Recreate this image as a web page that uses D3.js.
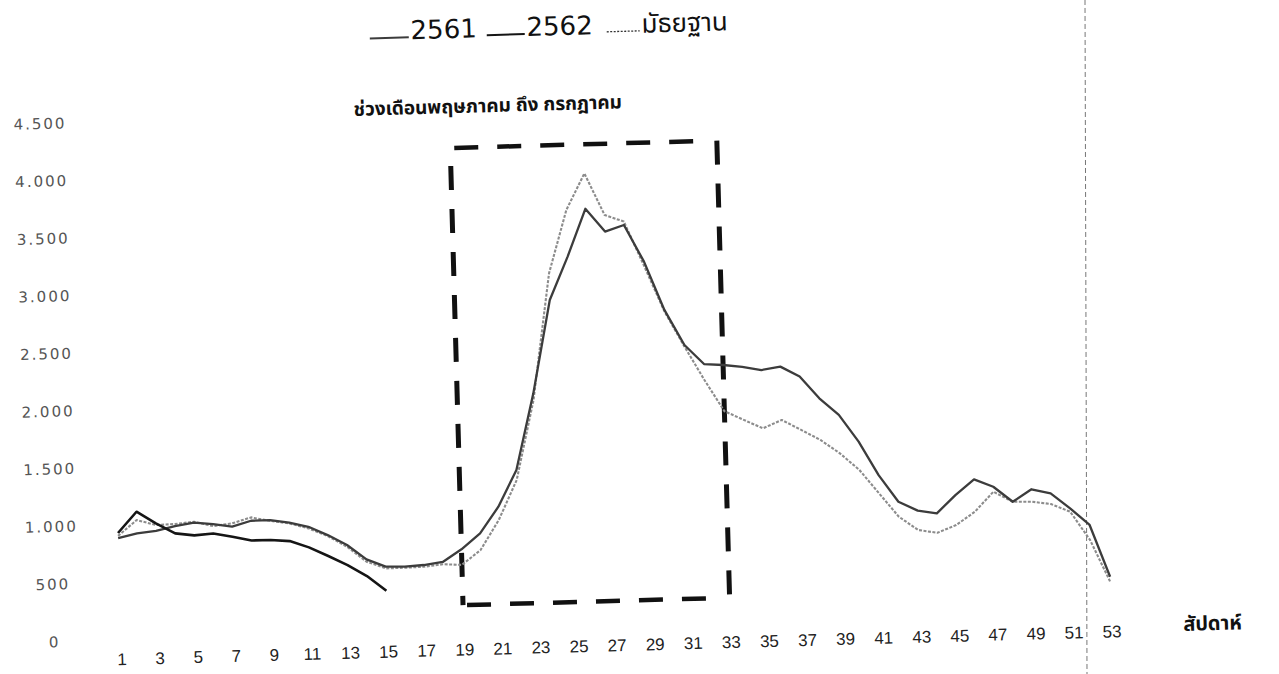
<!DOCTYPE html>
<html>
<head>
<meta charset="utf-8">
<script src="https://cdn.jsdelivr.net/npm/d3@7"></script>
<style>
  html, body { margin: 0; padding: 0; background: #fff; }
  svg { display: block; }
  .thai { font-family: "Noto Sans Thai", "Noto Sans Thai UI", "Loma", "Garuda", "Tahoma", "DejaVu Sans", sans-serif; }
</style>
</head>
<body>
<svg id="chart" width="1279" height="674"></svg>
<script>
// ---------------- DATA ----------------
const weeks = [1,2,3,4,5,6,7,8,9,10,11,12,13,14,15,16,17,18,19,20,21,22,23,24,25,26,27,28,29,30,
               31,32,33,34,35,36,37,38,39,40,41,42,43,44,45,46,47,48,49,50,51,52,53];

const series2561 = [885,922,940,976,1001,984,957,1004,1005,978,938,861,770,641,573,568,578,600,705,839,
                    1066,1380,2041,2847,3219,3630,3427,3480,3157,2733,2424,2254,2241,2221,2188,2213,2122,1929,1780,1543,
                    1248,1012,930,902,1056,1188,1119,984,1088,1048,913,764,310];

const series2562 = [930,1110,1004,913,891,903,870,833,832,818,759,679,596,496,364];

const seriesMedian = [905,1038,990,994,1009,967,986,1033,999,972,924,853,755,621,558,559,563,580,570,694,
                      950,1293,1983,3079,3624,3937,3572,3510,3120,2720,2410,2115,1840,1760,1682,1750,1659,1567,1446,1297,
                      1089,882,762,733,796,907,1076,984,980,955,884,634,266];

const seriesNames = ["2561", "2562", "มัธยฐาน"];

const xTickValues = [1,3,5,7,9,11,13,15,17,19,21,23,25,27,29,31,33,35,37,39,41,43,45,47,49,51,53];
const xTickLabels = ["1","3","5","7","9","11","13","15","17","19","21","23","25","27","29","31","33",
                     "35","37","39","41","43","45","47","49","51","53"];
const yTickValues = [0,500,1000,1500,2000,2500,3000,3500,4000,4500];
const yTickLabels = ["0","500","1.000","1.500","2.000","2.500","3.000","3.500","4.000","4.500"];

// highlight box: weeks 19–33 (May – July)
const boxWeeks = [19, 33];
const boxValues = [220, 4190];

const titleText = "ช่วงเดือนพฤษภาคม ถึง กรกฎาคม";
const xAxisTitle = "สัปดาห์";

// ---------------- DRAW ----------------
const svg = d3.select("#chart");

// faint scan fold line (page artifact)
svg.append("line")
  .attr("x1", 1085).attr("x2", 1087).attr("y1", 0).attr("y2", 674)
  .attr("stroke", "#777").attr("stroke-width", 1).attr("stroke-dasharray", "5,3");

// the scanned page is slightly rotated
const g = svg.append("g").attr("transform", "rotate(-1.6, 640, 400)");

const x = d3.scalePoint().domain(weeks).range([114.5, 1105]);
const y = d3.scaleLinear().domain([0, 4500]).range([625.5, 107.1]);

// Y axis labels
const yAxis = d3.axisLeft(y).tickValues(yTickValues).tickSize(0)
  .tickFormat((d, i) => yTickLabels[i]);
const yG = g.append("g").attr("transform", "translate(48,0)").call(yAxis);
yG.select(".domain").remove();
yG.selectAll("text")
  .attr("x", 0).attr("text-anchor", "middle")
  .attr("font-family", "'DejaVu Sans', sans-serif")
  .attr("font-size", 15).attr("letter-spacing", 2)
  .attr("fill", "#555");

// X axis labels
const xAxis = d3.axisBottom(x).tickValues(xTickValues).tickSize(0)
  .tickFormat((d, i) => xTickLabels[i]);
const xG = g.append("g").attr("transform", `translate(0,${y(0)})`).call(xAxis);
xG.select(".domain").remove();
xG.selectAll("text")
  .attr("y", 25).attr("dy", null)
  .attr("font-family", "'Liberation Sans', sans-serif")
  .attr("font-size", 17)
  .attr("fill", "#222");

// axis title
g.append("text").attr("class", "thai")
  .attr("x", 1206).attr("y", 646)
  .attr("text-anchor", "middle")
  .attr("font-size", 20).attr("font-weight", "bold")
  .attr("fill", "#111")
  .text(xAxisTitle);

// chart title
g.append("text").attr("class", "thai")
  .attr("x", 496).attr("y", 108)
  .attr("text-anchor", "middle")
  .attr("font-size", 19).attr("font-weight", "bold")
  .attr("fill", "#111")
  .text(titleText);

// highlight dashed box
const bx0 = x(boxWeeks[0]), bx1 = x(boxWeeks[1]);
const by0 = y(boxValues[0]), by1 = y(boxValues[1]);
const boxEdges = [
  {x1: bx0 + 4, y1: by1, x2: bx1 - 6, y2: by1, w: 4.5},
  {x1: bx0 + 4, y1: by0, x2: bx1 - 6, y2: by0, w: 4.5},
  {x1: bx0, y1: by1 + 18, x2: bx0, y2: by0, w: 5},
  {x1: bx1, y1: by1, x2: bx1, y2: by0, w: 5}
];
g.append("g").selectAll("line").data(boxEdges).join("line")
  .attr("x1", d => d.x1).attr("y1", d => d.y1)
  .attr("x2", d => d.x2).attr("y2", d => d.y2)
  .attr("stroke", "#111").attr("stroke-width", d => d.w)
  .attr("stroke-dasharray", "24,19");

// lines
const line = d3.line().x(d => x(d.w)).y(d => y(d.v));
const mk = arr => arr.map((v, i) => ({w: weeks[i], v}));

const styles = [
  {name: seriesNames[0], data: mk(series2561), color: "#3c3c3c", width: 2.3, dash: null},
  {name: seriesNames[1], data: mk(series2562), color: "#151515", width: 2.6, dash: null},
  {name: seriesNames[2], data: mk(seriesMedian), color: "#8c8c8c", width: 2.1, dash: "3,1.5"}
];

g.append("g").selectAll("path").data([styles[2], styles[0], styles[1]]).join("path")
  .attr("d", d => line(d.data))
  .attr("fill", "none")
  .attr("stroke", d => d.color)
  .attr("stroke-width", d => d.width)
  .attr("stroke-dasharray", d => d.dash)
  .attr("stroke-linejoin", "round");

// legend
const legendPos = [
  {lx: 380, tx: 421},
  {lx: 497, tx: 537},
  {lx: 617, tx: 652}
];
const leg = g.append("g");
styles.forEach((s, i) => {
  const p = legendPos[i];
  leg.append("line")
    .attr("x1", p.lx).attr("x2", p.tx - 2)
    .attr("y1", 31).attr("y2", 31)
    .attr("stroke", i === 2 ? "#333" : s.color)
    .attr("stroke-width", i === 2 ? 1.3 : 2)
    .attr("stroke-dasharray", i === 2 ? "2,1.5" : null);
  leg.append("text")
    .attr("class", i === 2 ? "thai" : null)
    .attr("x", p.tx).attr("y", 33)
    .attr("font-family", i === 2 ? null : "'DejaVu Sans', sans-serif")
    .attr("font-size", 26)
    .attr("fill", "#111")
    .text(s.name);
});
</script>
</body>
</html>
